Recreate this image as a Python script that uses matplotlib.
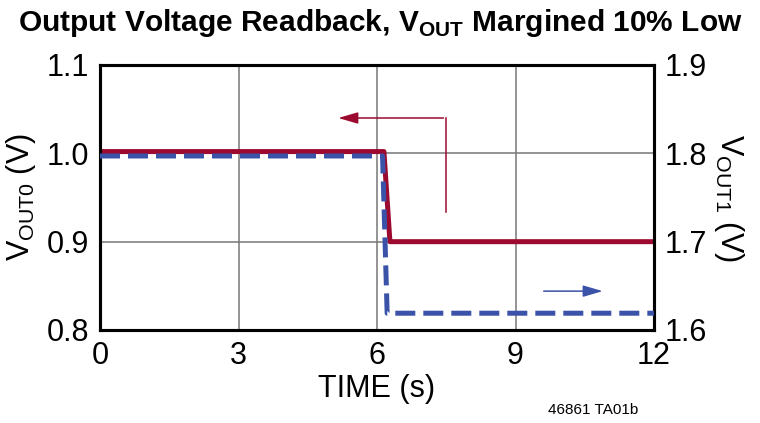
import matplotlib.pyplot as plt

plt.rcParams['font.family'] = ['Liberation Sans Narrow', 'Liberation Sans', 'DejaVu Sans']
plt.rcParams['mathtext.fontset'] = 'custom'
plt.rcParams['mathtext.rm'] = 'Liberation Sans'
plt.rcParams['mathtext.bf'] = 'Liberation Sans:bold'

# readback traces
time_vout0 = [0, 6.15, 6.28, 12]
vout0 = [1.002, 1.002, 0.9, 0.9]
time_vout1 = [0, 6.12, 6.22, 12]
vout1 = [1.797, 1.797, 1.619, 1.619]

x_ticks = [0, 3, 6, 9, 12]
left_ticks = [0.8, 0.9, 1.0, 1.1]
right_ticks = [1.6, 1.7, 1.8, 1.9]

red = '#9c0a30'
blue = '#3a52a8'

fig = plt.figure(figsize=(7.6, 4.23), dpi=100)
ax = fig.add_axes([100 / 760, 93 / 423, 554 / 760, 265 / 423])
ax2 = ax.twinx()

ax.plot(time_vout0, vout0, color=red, lw=3.6, zorder=3)
ax2.plot(time_vout1, vout1, color=blue, lw=3.6, dashes=(4.0, 1.6), zorder=3)

ax.set_xlim(0, 12)
ax.set_ylim(0.8, 1.1)
ax2.set_ylim(1.6, 1.9)
ax.set_xticks(x_ticks)
ax.set_yticks(left_ticks)
ax2.set_yticks(right_ticks)
ax.set_yticklabels([f'{v:.1f}' for v in left_ticks])
ax2.set_yticklabels([f'{v:.1f}' for v in right_ticks])
ax.grid(True, color='#777777', lw=1.1)
ax.set_axisbelow(True)

for a in (ax, ax2):
    a.tick_params(length=0, labelsize=22, pad=8)
    for s in a.spines.values():
        s.set_linewidth(2.2)

# direction arrows
ax.annotate('', xy=(5.1, 1.04), xytext=(7.5, 1.04),
            arrowprops=dict(arrowstyle='-|>,head_length=1.2,head_width=0.35',
                            color=red, lw=1.1))
ax.plot([7.5, 7.5], [0.934, 1.04], color=red, lw=1.1)
ax2.annotate('', xy=(10.95, 1.644), xytext=(9.55, 1.644),
             arrowprops=dict(arrowstyle='-|>,head_length=1.2,head_width=0.35',
                             color=blue, lw=1.1))

ax.set_xlabel('TIME (s)', fontsize=22, labelpad=2)
ax.set_ylabel(r'V$_{\mathrm{OUT0}}$ (V)', fontsize=22, labelpad=6)
ax2.set_ylabel(r'V$_{\mathrm{OUT1}}$ (V)', fontsize=22, rotation=270, labelpad=28)

fig.text(0.5, 1 - 23 / 423, r'Output Voltage Readback, V$_{\mathbf{OUT}}$ Margined 10% Low',
         ha='center', va='center', fontsize=21.5, fontweight='bold')
fig.text(548 / 760, 1 - 410 / 423, '46861 TA01b', fontsize=11, va='center')

fig.savefig('out.png', dpi=100)
